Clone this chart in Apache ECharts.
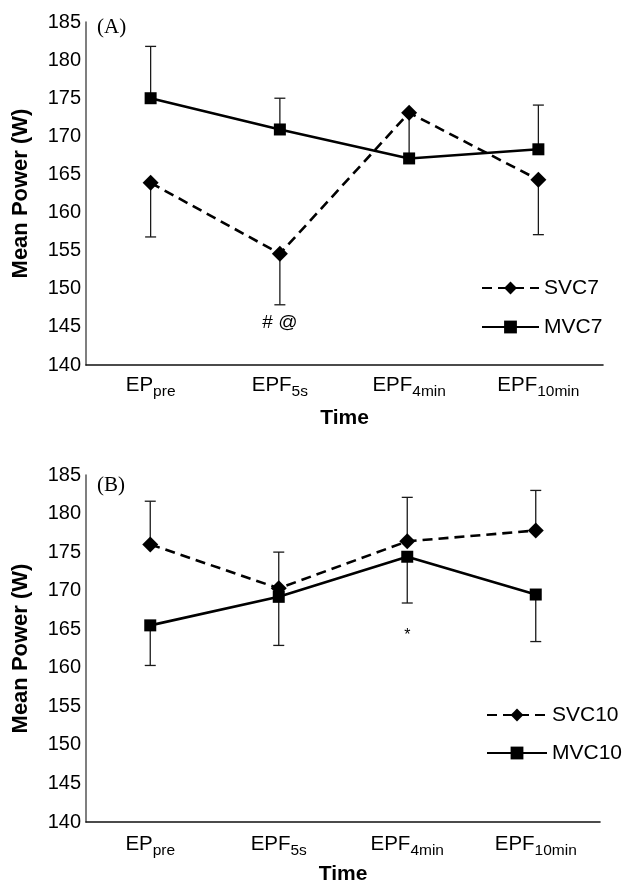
<!DOCTYPE html>
<html>
<head>
<meta charset="utf-8">
<script src="https://cdn.jsdelivr.net/npm/echarts@6/dist/echarts.min.js"></script>
<style>
html,body{margin:0;padding:0;background:#fff;}
#chart{width:622px;height:891px;}
</style>
</head>
<body>
<div id="chart"></div>
<script>
// ---- data ----
const labelMain = ['EP', 'EPF', 'EPF', 'EPF'];
const labelSub = ['pre', '5s', '4min', '10min'];
const categories = ['EPpre', 'EPF5s', 'EPF4min', 'EPF10min'];
const yTicks = [140, 145, 150, 155, 160, 165, 170, 175, 180, 185];

// Panel A
const svc7 = [163.9, 154.6, 173.1, 164.3];
const mvc7 = [175.0, 170.9, 167.1, 168.3];
const svc7ErrEnd = [156.8, 147.9, null, 157.1];
const mvc7ErrEnd = [181.8, 175.0, 173.1, 174.1];

// Panel B
const svc10 = [176.0, 170.3, 176.4, 177.8];
const mvc10 = [165.5, 169.2, 174.4, 169.5];
const svc10ErrEnd = [181.6, 175.0, 182.1, 183.0];
const mvc10ErrEnd = [160.3, 162.9, 168.4, 163.4];

// annotations
const annotAText = ['# @'];
const annotAPos = [[1, 145.6]];
const annotBText = ['*'];
const annotBPos = [[2, 164.2]];

// ---- chart ----
const FONT = "'Liberation Sans', Arial, Helvetica, sans-serif";
const chart = echarts.init(document.getElementById('chart'), null, { renderer: 'canvas' });

function errData(values, ends) {
  const out = [];
  values.forEach((v, i) => {
    if (ends[i] != null) out.push([i, v, ends[i]]);
  });
  return out;
}

function errRender(params, api) {
  const i = api.value(0);
  const p0 = api.coord([i, api.value(1)]);
  const p1 = api.coord([i, api.value(2)]);
  const hw = 5.5;
  const st = { stroke: '#1a1a1a', lineWidth: 1.3 };
  return {
    type: 'group',
    children: [
      { type: 'line', shape: { x1: p0[0], y1: p0[1], x2: p1[0], y2: p1[1] }, style: st },
      { type: 'line', shape: { x1: p1[0] - hw, y1: p1[1], x2: p1[0] + hw, y2: p1[1] }, style: st }
    ]
  };
}

function xAxisFor(gridIndex, labelMargin, nameGap) {
  return {
    type: 'category',
    gridIndex: gridIndex,
    data: categories,
    boundaryGap: true,
    axisLine: { lineStyle: { color: '#111', width: 1.6 } },
    axisTick: { show: false },
    axisLabel: {
      margin: labelMargin,
      color: '#000',
      formatter: function (v, idx) {
        return '{a|' + labelMain[idx] + '}{b|' + labelSub[idx] + '}';
      },
      rich: {
        a: { fontFamily: FONT, fontSize: 20.5, color: '#000', lineHeight: 22, padding: [0, 0, 4, 0], verticalAlign: 'bottom' },
        b: { fontFamily: FONT, fontSize: 15.5, color: '#000', lineHeight: 18, verticalAlign: 'bottom' }
      }
    },
    name: 'Time',
    nameLocation: 'middle',
    nameGap: nameGap,
    nameTextStyle: { fontFamily: FONT, fontSize: 21, fontWeight: 'bold', color: '#000' }
  };
}

function yAxisFor(gridIndex) {
  return {
    type: 'value',
    gridIndex: gridIndex,
    min: yTicks[0],
    max: yTicks[yTicks.length - 1],
    interval: 5,
    splitLine: { show: false },
    axisTick: { show: false },
    axisLine: { show: true, lineStyle: { color: '#555', width: 1.5 } },
    axisLabel: { margin: 5, fontFamily: FONT, fontSize: 20, color: '#000' },
    name: 'Mean Power (W)',
    nameLocation: 'middle',
    nameGap: 54,
    nameTextStyle: { fontFamily: FONT, fontSize: 22, fontWeight: 'bold', color: '#000' }
  };
}

function lineSeries(name, data, idx, dashed) {
  return {
    name: name,
    type: 'line',
    xAxisIndex: idx,
    yAxisIndex: idx,
    data: data,
    symbol: dashed ? 'diamond' : 'rect',
    symbolSize: dashed ? 16 : 12,
    itemStyle: { color: '#000' },
    lineStyle: { color: '#000', width: 2.6, type: dashed ? [10, 6] : 'solid' },
    z: 3
  };
}

function errSeries(values, ends, idx) {
  return {
    type: 'custom',
    xAxisIndex: idx,
    yAxisIndex: idx,
    data: errData(values, ends),
    renderItem: errRender,
    z: 2,
    silent: true
  };
}

function annotSeries(pos, texts, idx, size) {
  return {
    type: 'custom',
    xAxisIndex: idx,
    yAxisIndex: idx,
    data: pos,
    silent: true,
    z: 4,
    renderItem: function (params, api) {
      const p = api.coord([api.value(0), api.value(1)]);
      return {
        type: 'text',
        style: {
          text: texts[params.dataIndex],
          x: p[0], y: p[1],
          align: 'center', verticalAlign: 'middle',
          font: size + 'px ' + FONT,
          fill: '#000'
        }
      };
    }
  };
}

const legendText = { fontFamily: FONT, fontSize: 21, color: '#000', lineHeight: 22 };

const option = {
  animation: false,
  backgroundColor: '#fff',
  title: [
    { text: '(A)', left: 92, top: 12, textStyle: { fontFamily: "'Liberation Serif', 'Times New Roman', serif", fontSize: 21, fontWeight: 'normal', color: '#000' } },
    { text: '(B)', left: 92, top: 470, textStyle: { fontFamily: "'Liberation Serif', 'Times New Roman', serif", fontSize: 21, fontWeight: 'normal', color: '#000' } }
  ],
  legend: [
    { data: ['SVC7', 'MVC7'], orient: 'vertical', left: 476, top: 272, itemWidth: 57, itemHeight: 16, itemGap: 17, textStyle: legendText, selectedMode: false },
    { data: ['SVC10', 'MVC10'], orient: 'vertical', left: 481, top: 699, itemWidth: 60, itemHeight: 16, itemGap: 16, textStyle: legendText, selectedMode: false }
  ],
  grid: [
    { left: 86, top: 22, right: 19, height: 343 },
    { left: 86, top: 475, right: 22, height: 347 }
  ],
  xAxis: [xAxisFor(0, 13, 43), xAxisFor(1, 15, 42)],
  yAxis: [yAxisFor(0), yAxisFor(1)],
  series: [
    errSeries(svc7, svc7ErrEnd, 0),
    errSeries(mvc7, mvc7ErrEnd, 0),
    lineSeries('SVC7', svc7, 0, true),
    lineSeries('MVC7', mvc7, 0, false),
    annotSeries(annotAPos, annotAText, 0, 19),
    errSeries(svc10, svc10ErrEnd, 1),
    errSeries(mvc10, mvc10ErrEnd, 1),
    lineSeries('SVC10', svc10, 1, true),
    lineSeries('MVC10', mvc10, 1, false),
    annotSeries(annotBPos, annotBText, 1, 16)
  ]
};
chart.setOption(option);
</script>
</body>
</html>
